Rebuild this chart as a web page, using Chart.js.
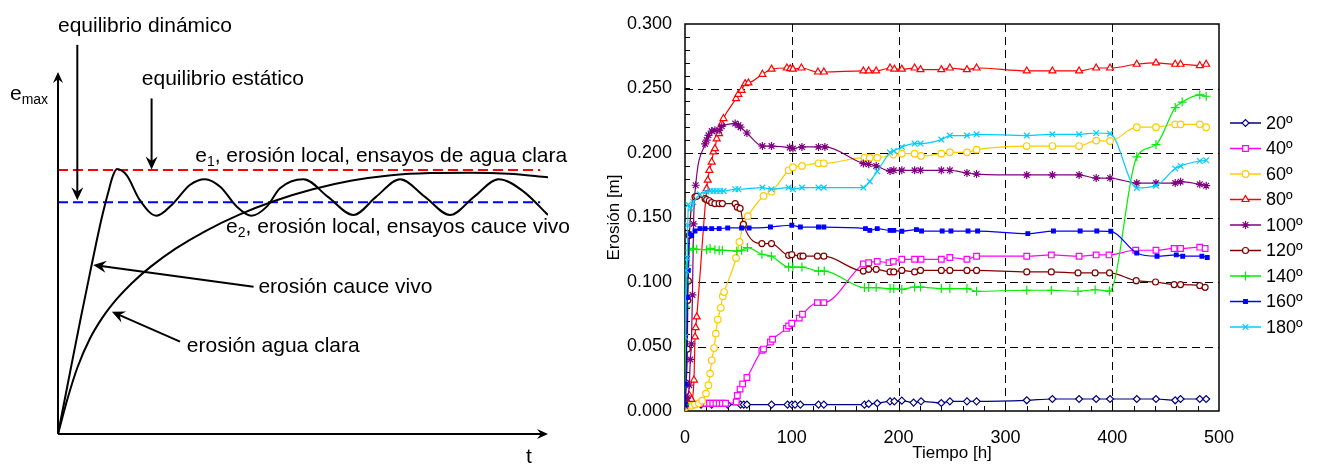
<!DOCTYPE html>
<html>
<head>
<meta charset="utf-8">
<script src="https://cdn.jsdelivr.net/npm/chart.js@4.4.1/dist/chart.umd.min.js"></script>
<style>
  body { margin: 0; background: #fff; }
  #left { position: absolute; left: 0; top: 0; }
  #right { position: absolute; left: 600px; top: 0; }
</style>
</head>
<body>
<canvas id="left" width="600" height="465"></canvas>
<canvas id="right" width="717" height="465"></canvas>
<script>
// ---------- left sketch: schematic erosion curves (arbitrary units 0-100) ----------
var dynT = [0, 2.45, 4.49, 6.53, 7.76, 8.98, 10.2, 11.2, 12.04, 14.0, 16.7, 20.1, 23.5, 26.9, 30.0, 33.1, 36.5, 39.5, 42.6, 45.3, 50.1, 55.1, 60.3, 64.9, 69.8, 74.9, 80.0, 84.9, 89.9, 94.9, 100];
var dynE = [0, 17, 31, 44.5, 52.5, 60, 66.5, 71.3, 73.2, 71.5, 64.6, 60.3, 63.7, 68.8, 70.4, 68.3, 62.8, 60.3, 62.8, 67.9, 70.4, 65.5, 60.5, 65.5, 70.4, 65.5, 60.5, 65.5, 70.4, 67.1, 60.5];
var clearT = [0, 2, 4, 6.5, 9, 12, 15, 19, 24, 30, 37, 44, 52, 60, 68, 76, 84, 92, 100];
var clearE = [0, 10, 18.5, 26.3, 32.0, 37.3, 41.6, 46.3, 51.2, 56.0, 60.6, 64.3, 67.6, 70.0, 71.5, 72.1, 72.2, 71.9, 70.9];
var limT = [0, 98.4];
var e1Level = [72.9, 72.9];
var e2Level = [64.0, 64.0];

// ---------- right chart: Erosión [m] vs Tiempo [h] ----------
var seriesNames = ['20º', '40º', '60º', '80º', '100º', '120º', '140º', '160º', '180º'];

var t20 = [0, 3, 8, 15, 25, 40, 52, 55, 58, 81, 96, 100, 103, 108, 125, 130, 168, 172, 180, 192, 196, 203, 214, 221, 240, 248, 264, 273, 320, 344, 369, 385, 398, 423, 441, 459, 464, 482, 488];
var e20 = [0.003, 0.004, 0.005, 0.005, 0.005, 0.005, 0.005, 0.005, 0.005, 0.005, 0.005, 0.005, 0.005, 0.005, 0.005, 0.005, 0.005, 0.0055, 0.006, 0.0075, 0.0075, 0.008, 0.0065, 0.0075, 0.0062, 0.0075, 0.0075, 0.0075, 0.0083, 0.0093, 0.0093, 0.0093, 0.0093, 0.0093, 0.0093, 0.0083, 0.0093, 0.0093, 0.0093];

var t40 = [0, 3, 8, 17, 20, 23, 26, 29, 32, 35, 38, 48, 49, 51.6, 54, 58, 72, 73.5, 80, 82, 95, 97, 100, 107, 110, 124, 130, 167, 172, 180, 191, 195, 203, 215, 221, 240, 248, 264, 273, 320, 343, 369, 385, 397, 422, 441, 458, 464, 482, 487];
var e40 = [0.003, 0.006, 0.005, 0.006, 0.006, 0.006, 0.006, 0.006, 0.006, 0.006, 0.006, 0.007, 0.012, 0.017, 0.021, 0.026, 0.047, 0.048, 0.0535, 0.0556, 0.064, 0.066, 0.068, 0.072, 0.075, 0.084, 0.084, 0.114, 0.115, 0.116, 0.115, 0.116, 0.1176, 0.1176, 0.1176, 0.1176, 0.119, 0.1176, 0.12, 0.12, 0.121, 0.12, 0.121, 0.121, 0.1246, 0.1246, 0.126, 0.126, 0.127, 0.126];

var t60 = [0, 3, 6, 9.4, 13, 16, 19.7, 21.9, 23.5, 25, 27.2, 28.8, 30.7, 33.5, 35.4, 36.6, 47.8, 51, 54.7, 58.8, 73.5, 81, 97, 101, 109.5, 125, 130, 168, 173, 180, 195, 203, 215, 221, 240, 248, 264, 273, 320, 344, 369, 385, 398, 423, 441, 459, 464, 482, 488];
var e60 = [0.003, 0.004, 0.004, 0.005, 0.006, 0.008, 0.0135, 0.020, 0.029, 0.0393, 0.0488, 0.060, 0.0709, 0.080, 0.089, 0.0922, 0.1186, 0.131, 0.1447, 0.151, 0.1667, 0.170, 0.1866, 0.189, 0.190, 0.192, 0.192, 0.1964, 0.1964, 0.1964, 0.1988, 0.1995, 0.1995, 0.1977, 0.1995, 0.2005, 0.2005, 0.2026, 0.2054, 0.2054, 0.2054, 0.2096, 0.2093, 0.220, 0.220, 0.2222, 0.2222, 0.2222, 0.220];

var t80 = [0, 2, 4, 6, 8.4, 9.4, 10, 11, 20.3, 21.3, 22.8, 25, 26.6, 28, 29.7, 31.9, 34.4, 36, 47.8, 50, 53, 56.3, 59.4, 72.5, 81, 95.4, 98.5, 101, 109, 124.5, 130, 167, 172, 179, 192, 196, 203, 215, 220.5, 240, 248, 264, 273, 320, 344, 369, 385, 398, 423, 441, 459, 464, 482, 488];
var e80 = [0.005, 0.01, 0.012, 0.009, 0.024, 0.0574, 0.0646, 0.073, 0.1724, 0.179, 0.1866, 0.193, 0.2008, 0.2034, 0.211, 0.215, 0.2228, 0.2267, 0.2422, 0.2455, 0.2486, 0.2538, 0.2543, 0.261, 0.265, 0.2659, 0.2654, 0.265, 0.2659, 0.2628, 0.2628, 0.2636, 0.2636, 0.2636, 0.2659, 0.265, 0.265, 0.2659, 0.2646, 0.2646, 0.2659, 0.2646, 0.2659, 0.2636, 0.2636, 0.2636, 0.2659, 0.2659, 0.2688, 0.2698, 0.2688, 0.2688, 0.2678, 0.2688];

var t100 = [0, 2, 4, 5, 6, 7, 8, 10, 18.8, 20.3, 22, 25, 28, 32, 34.4, 47, 50, 52, 58, 72.5, 81, 98, 101, 109.5, 125, 131, 167, 172, 179, 192, 195.5, 203, 215, 220.5, 240, 248, 264, 273, 320, 344, 369, 385, 398, 423, 441, 459, 464, 482, 488];
var e100 = [0.004, 0.01, 0.02, 0.04, 0.052, 0.09, 0.145, 0.175, 0.207, 0.21, 0.2137, 0.217, 0.2176, 0.2176, 0.2207, 0.2228, 0.2215, 0.220, 0.2155, 0.2054, 0.2054, 0.2042, 0.2034, 0.2047, 0.2047, 0.2047, 0.1918, 0.1912, 0.190, 0.186, 0.1866, 0.1866, 0.1866, 0.1866, 0.1866, 0.1866, 0.1845, 0.1837, 0.183, 0.183, 0.183, 0.1806, 0.1806, 0.1767, 0.1767, 0.1767, 0.1778, 0.1757, 0.1747];

var t120 = [0, 1, 2.2, 2.6, 3.1, 4, 9.4, 11, 18.8, 20.3, 22.8, 25, 28, 32, 35, 47, 49, 51.6, 54.7, 72, 81, 97, 100, 108, 110.5, 124, 130, 167, 172, 179, 192, 195.5, 203, 215, 220.5, 240, 248, 264, 273, 320, 343, 368, 384, 397.5, 422.5, 440.6, 458, 464, 482, 487];
var e120 = [0.005, 0.0217, 0.048, 0.0858, 0.1008, 0.136, 0.166, 0.1664, 0.1646, 0.1639, 0.163, 0.1615, 0.1608, 0.1608, 0.1608, 0.1608, 0.158, 0.157, 0.1447, 0.1298, 0.1298, 0.1207, 0.1212, 0.12, 0.12, 0.12, 0.12, 0.1085, 0.1098, 0.1098, 0.1078, 0.1078, 0.109, 0.1078, 0.109, 0.109, 0.109, 0.109, 0.109, 0.1078, 0.1078, 0.107, 0.107, 0.107, 0.101, 0.100, 0.098, 0.098, 0.0972, 0.0959];

var t140 = [0, 1, 1.6, 2.2, 4, 7.2, 11, 20.3, 23.5, 28, 32, 35, 48.5, 53, 58.5, 72, 81, 97, 101, 109.5, 125, 130.4, 168, 172, 179, 192, 195.5, 203, 215, 220.5, 240, 248, 264, 273, 320, 343, 368, 384, 397.5, 423, 441, 459, 465.5, 482, 488];
var e140 = [0.005, 0.0806, 0.10, 0.113, 0.1246, 0.126, 0.1253, 0.125, 0.126, 0.125, 0.1246, 0.1246, 0.124, 0.1246, 0.1267, 0.1215, 0.12, 0.1116, 0.1116, 0.1116, 0.1085, 0.1085, 0.0957, 0.0957, 0.0957, 0.0949, 0.0949, 0.0943, 0.0961, 0.0961, 0.0949, 0.0949, 0.0949, 0.0928, 0.0936, 0.0936, 0.0928, 0.094, 0.093, 0.197, 0.2065, 0.2352, 0.2395, 0.245, 0.244];

var t160 = [0, 1, 2.2, 3.1, 4, 6.3, 9.4, 14, 18.8, 25, 32, 40, 53, 60, 80, 100, 108, 125, 130, 169, 173, 180, 192, 195.5, 203, 216.7, 221.5, 240.8, 249, 265, 274, 321, 345, 370, 385.6, 398.7, 423, 442, 460, 466, 484, 489];
var e160 = [0.005, 0.021, 0.088, 0.109, 0.1375, 0.136, 0.1395, 0.1414, 0.1414, 0.1414, 0.1414, 0.1419, 0.1419, 0.1419, 0.1426, 0.144, 0.1426, 0.1426, 0.1426, 0.1414, 0.140, 0.1414, 0.140, 0.140, 0.1393, 0.1406, 0.1395, 0.1395, 0.1395, 0.1395, 0.1395, 0.1375, 0.1395, 0.1395, 0.1395, 0.1393, 0.1225, 0.12, 0.121, 0.12, 0.12, 0.119];

var t180 = [0, 1, 2, 2.6, 3.1, 5.3, 7.8, 14, 19.7, 23.5, 26.6, 29.7, 32.8, 36, 47, 50, 72.5, 81, 97, 101, 109.5, 125, 130, 167, 173, 180, 192, 195.5, 203, 215, 220.5, 240, 248, 264, 273, 320, 344, 369, 385, 398, 423, 441, 459, 464, 482, 488];
var e180 = [0.0574, 0.109, 0.1186, 0.144, 0.160, 0.157, 0.162, 0.168, 0.170, 0.1705, 0.1705, 0.1705, 0.1705, 0.1705, 0.1719, 0.1719, 0.1732, 0.1719, 0.1732, 0.1719, 0.1732, 0.1732, 0.1732, 0.1732, 0.178, 0.1858, 0.2003, 0.2016, 0.2047, 0.2073, 0.2073, 0.2104, 0.2135, 0.2135, 0.2145, 0.2135, 0.2145, 0.2145, 0.2155, 0.215, 0.1729, 0.1747, 0.188, 0.190, 0.1938, 0.1943];

var allT = [t20, t40, t60, t80, t100, t120, t140, t160, t180];
var allE = [e20, e40, e60, e80, e100, e120, e140, e160, e180];

// marker / colour per series
var looks = [
  { color: '#000080', style: 'rectRot', r: 3.5, fill: '#fff' },
  { color: '#FF00FF', style: 'rect', r: 4, fill: '#fff' },
  { color: '#FFCC00', style: 'circle', r: 3.3, fill: '#fff' },
  { color: '#FF0000', style: 'triangle', r: 4, fill: '#fff' },
  { color: '#800080', style: 'star', r: 4, fill: '#800080' },
  { color: '#800000', style: 'circle', r: 3, fill: '#fff' },
  { color: '#00EE00', style: 'cross', r: 4.5, fill: '#00EE00' },
  { color: '#0000FF', style: 'rect', r: 2.6, fill: '#0000FF' },
  { color: '#00CCFF', style: 'crossRot', r: 4, fill: '#00CCFF' }
];

Chart.defaults.font.family = '"Liberation Sans", Arial, sans-serif';
Chart.defaults.color = '#000';

function pts(xs, ys) {
  return xs.map(function (v, i) { return { x: v, y: ys[i] }; });
}

function stealth(ctx, x1, y1, x2, y2, len, half) {
  var a = Math.atan2(y2 - y1, x2 - x1);
  var ux = Math.cos(a), uy = Math.sin(a);
  ctx.beginPath();
  ctx.moveTo(x1, y1);
  ctx.lineTo(x2 - ux * len * 0.6, y2 - uy * len * 0.6);
  ctx.stroke();
  ctx.beginPath();
  ctx.moveTo(x2, y2);
  ctx.lineTo(x2 - ux * len - uy * half, y2 - uy * len + ux * half);
  ctx.lineTo(x2 - ux * len * 0.65, y2 - uy * len * 0.65);
  ctx.lineTo(x2 - ux * len + uy * half, y2 - uy * len - ux * half);
  ctx.closePath();
  ctx.fill();
}

// annotation text in sketch units: [text, sub-script?]
var notes = [
  { x: 0, y: 111.1, parts: [['equilibrio dinámico', 0]] },
  { x: 17.1, y: 96.4, parts: [['equilibrio estático', 0]] },
  { x: 28.0, y: 75.2, parts: [['e', 0], ['1', 1], [', erosión local, ensayos de agua clara', 0]] },
  { x: 34.3, y: 55.4, parts: [['e', 0], ['2', 1], [', erosión local, ensayos cauce vivo', 0]] },
  { x: 40.9, y: 38.9, parts: [['erosión cauce vivo', 0]] },
  { x: 26.3, y: 22.7, parts: [['erosión agua clara', 0]] },
  { x: -9.8, y: 92.3, parts: [['e', 0], ['max', 1]] },
  { x: 95.5, y: -8.0, parts: [['t', 0]] }
];
var pointers = [
  { from: [3.94, 107.5], to: [3.94, 64.6] },
  { from: [19.1, 92.7], to: [19.1, 73.1] },
  { from: [39.9, 40.7], to: [7.2, 46.7] },
  { from: [24.9, 25.5], to: [11.0, 33.8] }
];

var sketchPlugin = {
  id: 'sketch',
  afterDatasetsDraw: function (chart) {
    var ctx = chart.ctx, sx = chart.scales.x, sy = chart.scales.y;
    var X = function (v) { return sx.getPixelForValue(v); };
    var Y = function (v) { return sy.getPixelForValue(v); };
    ctx.save();
    ctx.strokeStyle = '#000';
    ctx.fillStyle = '#000';
    ctx.lineWidth = 2;
    // axes with arrow heads
    stealth(ctx, X(0), Y(0), X(0), Y(100), 11, 5);
    stealth(ctx, X(0), Y(0), X(100), Y(0), 11, 5);
    ctx.lineWidth = 2;
    pointers.forEach(function (p) {
      stealth(ctx, X(p.from[0]), Y(p.from[1]), X(p.to[0]), Y(p.to[1]), 13, 6);
    });
    ctx.textBaseline = 'alphabetic';
    ctx.textAlign = 'left';
    notes.forEach(function (n) {
      var px = X(n.x), py = Y(n.y);
      n.parts.forEach(function (p) {
        ctx.font = (p[1] ? '14px' : '21px') + ' "Liberation Sans", Arial, sans-serif';
        ctx.fillText(p[0], px, py + (p[1] ? 4 : 0));
        px += ctx.measureText(p[0]).width;
      });
    });
    ctx.restore();
  }
};

new Chart(document.getElementById('left'), {
  type: 'line',
  data: {
    datasets: [
      { data: pts(dynT, dynE), borderColor: '#000', borderWidth: 2, pointRadius: 0, cubicInterpolationMode: 'monotone' },
      { data: pts(clearT, clearE), borderColor: '#000', borderWidth: 2, pointRadius: 0, cubicInterpolationMode: 'monotone' },
      { data: pts(limT, e1Level), borderColor: '#FF0000', borderWidth: 2, borderDash: [10, 5], pointRadius: 0 },
      { data: pts(limT, e2Level), borderColor: '#0000FF', borderWidth: 2, borderDash: [10, 5], pointRadius: 0 }
    ]
  },
  options: {
    responsive: false,
    animation: false,
    layout: { padding: { left: 58, right: 52, top: 72, bottom: 31 } },
    scales: {
      x: { type: 'linear', min: 0, max: 100, display: false },
      y: { type: 'linear', min: 0, max: 100, display: false }
    },
    plugins: { legend: { display: false }, tooltip: { enabled: false } }
  },
  plugins: [sketchPlugin]
});

var framePlugin = {
  id: 'frame',
  beforeDatasetsDraw: function (chart) {
    var ctx = chart.ctx, a = chart.chartArea, sx = chart.scales.x, sy = chart.scales.y;
    ctx.save();
    ctx.strokeStyle = '#000';
    ctx.lineWidth = 1;
    ctx.setLineDash([8, 5]);
    sy.ticks.forEach(function (t) {
      if (t.value <= 0 || t.value >= sy.max) return;
      var py = Math.round(sy.getPixelForValue(t.value)) + 0.5;
      ctx.beginPath(); ctx.moveTo(a.left, py); ctx.lineTo(a.right, py); ctx.stroke();
    });
    sx.ticks.forEach(function (t) {
      if (t.value <= 0 || t.value >= sx.max) return;
      var px = Math.round(sx.getPixelForValue(t.value)) + 0.5;
      ctx.beginPath(); ctx.moveTo(px, a.top); ctx.lineTo(px, a.bottom); ctx.stroke();
    });
    ctx.setLineDash([]);
    // minor ticks pointing inward
    for (var v = 0.01; v < sy.max; v += 0.01) {
      var py = Math.round(sy.getPixelForValue(v)) + 0.5;
      ctx.beginPath(); ctx.moveTo(a.left, py); ctx.lineTo(a.left + 5, py); ctx.stroke();
    }
    for (var h = 20; h < sx.max; h += 20) {
      var px = Math.round(sx.getPixelForValue(h)) + 0.5;
      ctx.beginPath(); ctx.moveTo(px, a.bottom); ctx.lineTo(px, a.bottom - 5); ctx.stroke();
    }
    ctx.lineWidth = 1.5;
    ctx.strokeRect(a.left, a.top, a.right - a.left, a.bottom - a.top);
    ctx.restore();
  }
};

var keyPlugin = {
  id: 'key',
  afterDraw: function (chart) {
    var ctx = chart.ctx;
    var x0 = chart.chartArea.right + 11;
    ctx.save();
    chart.data.datasets.forEach(function (ds, i) {
      var yy = 123 + i * 25.5;
      ctx.strokeStyle = ds.borderColor;
      ctx.lineWidth = 1.5;
      ctx.beginPath(); ctx.moveTo(x0, yy); ctx.lineTo(x0 + 31, yy); ctx.stroke();
      ctx.fillStyle = ds.pointBackgroundColor;
      ctx.strokeStyle = ds.pointBorderColor;
      ctx.lineWidth = ds.pointBorderWidth;
      if (Chart.helpers && Chart.helpers.drawPoint) {
        Chart.helpers.drawPoint(ctx, { pointStyle: ds.pointStyle, radius: ds.pointRadius, borderWidth: ds.pointBorderWidth, rotation: 0 }, x0 + 15.5, yy);
      }
      ctx.fillStyle = '#000';
      ctx.font = '18px "Liberation Sans", Arial, sans-serif';
      ctx.textBaseline = 'middle';
      ctx.textAlign = 'left';
      ctx.fillText(ds.label, x0 + 36, yy + 1);
    });
    ctx.restore();
  }
};

var rightSets = seriesNames.map(function (name, i) {
  var lk = looks[i];
  return {
    label: name,
    data: pts(allT[i], allE[i]),
    borderColor: lk.color,
    borderWidth: 1.2,
    pointStyle: lk.style,
    pointRadius: lk.r,
    pointBorderWidth: 1.2,
    pointBorderColor: lk.color,
    pointBackgroundColor: lk.fill,
    cubicInterpolationMode: 'monotone',
    order: -i
  };
});

new Chart(document.getElementById('right'), {
  type: 'line',
  data: { datasets: rightSets },
  options: {
    responsive: false,
    animation: false,
    layout: { padding: { left: 0, right: 98, top: 24, bottom: 0 } },
    scales: {
      x: {
        type: 'linear', min: 0, max: 500,
        grid: { display: false, drawTicks: false },
        border: { display: false },
        ticks: { stepSize: 100, padding: 16, font: { size: 18 }, maxRotation: 0 },
        title: { display: true, text: 'Tiempo [h]', font: { size: 17 }, padding: { top: 0, bottom: 1 } },
        afterFit: function (s) { s.height = 54; }
      },
      y: {
        type: 'linear', min: 0, max: 0.3,
        grid: { display: false, drawTicks: false },
        border: { display: false },
        ticks: { stepSize: 0.05, padding: 13, font: { size: 18 }, callback: function (v) { return Number(v).toFixed(3); } },
        title: { display: true, text: 'Erosión [m]', font: { size: 17 }, padding: { top: 4, bottom: 4 } },
        afterFit: function (s) { s.width = 85; }
      }
    },
    plugins: { legend: { display: false }, tooltip: { enabled: false } }
  },
  plugins: [framePlugin, keyPlugin]
});
</script>
</body>
</html>
